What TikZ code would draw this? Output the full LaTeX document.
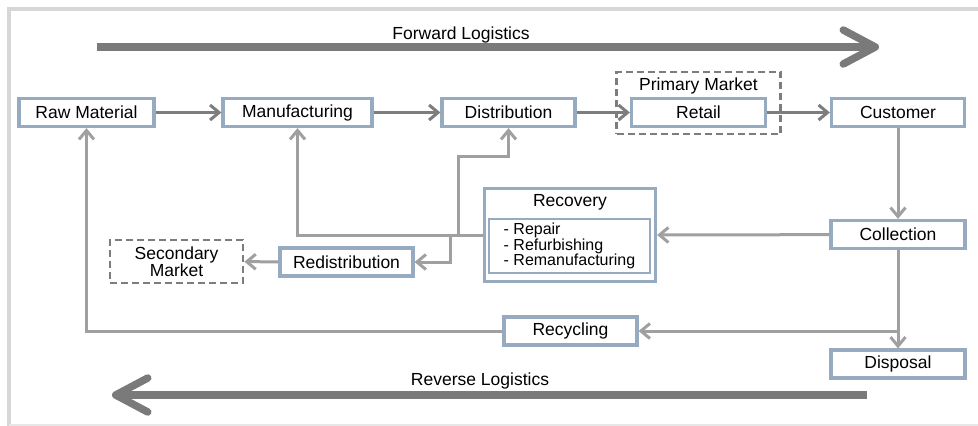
\documentclass[tikz,border=0pt]{standalone}
\usepackage{fontspec}
\setmainfont{Liberation Sans}
\usetikzlibrary{calc,arrows.meta}
\definecolor{boxblue}{RGB}{150,170,192}
\definecolor{linegray}{RGB}{160,160,160}
\definecolor{darkline}{RGB}{125,125,125}
\definecolor{bandgray}{RGB}{122,122,122}
\definecolor{framegray}{RGB}{214,214,214}
\tikzset{%
  >={Straight Barb[length=9pt,width=15pt]}, % open arrow heads
  stage/.style={draw=boxblue,line width=3.2pt,fill=white,inner sep=0pt,
  minimum height=28pt,font=\fontsize{17.5}{20}\selectfont},%
  market/.style={draw=darkline,dash pattern=on 7pt off 4pt,line width=2.8pt,
  inner sep=0pt,align=center,font=\fontsize{17.5}{16}\selectfont},%
  flow/.style={->,draw=linegray,line width=3pt},%
  fwdflow/.style={flow,draw=darkline},%
  band/.style={draw=bandgray,line width=7.5pt,
  -{Straight Barb[length=32pt,width=34pt,round]}},%
  caption/.style={font=\fontsize{17.5}{20}\selectfont}%
}
\begin{document}
\begin{tikzpicture}[x=1pt,y=-1pt] % one unit = one pixel, y downwards

    \useasboundingbox (0,0) rectangle (978,426);
    \draw[framegray,line width=3.5pt] (990,9) -- (9,9) -- (9,426); % frame
    \draw[framegray!60,line width=2pt] (9,425) -- (990,425);

    \def\rowy{112.5} % forward chain
    \def\colx{898} % right column

    % forward logistics
    \coordinate (FwdStart) at (97,47);
    \coordinate (FwdEnd) at (879,47);
    \draw[band] (FwdStart) -- (FwdEnd);
    \node[caption] (fwdlabel) at (461,35) {Forward Logistics};

    \node[market,minimum width=164pt,minimum height=62pt] (primary) at (698.5,103) {};
    \node[caption] (primarylabel) at (698.5,86) {Primary Market};

    \node[stage,minimum width=135pt] (raw) at (86.5,\rowy) {Raw Material};
    \node[stage,minimum width=149pt] (manu) at (297.5,\rowy) {Manufacturing};
    \node[stage,minimum width=133pt] (distr) at (508.5,\rowy) {Distribution};
    \node[stage,minimum width=134pt] (retail) at (698.5,\rowy) {Retail};
    \node[stage,minimum width=133pt] (customer) at (\colx,\rowy) {Customer};

    \draw[fwdflow] (raw) -- (manu);
    \draw[fwdflow] (manu) -- (distr);
    \draw[fwdflow] (distr) -- (retail);
    \draw[fwdflow] (retail) -- (customer);

    % reverse side
    \node[stage,minimum width=134pt] (collection) at (\colx,234.5) {Collection};
    \node[stage,minimum width=134pt] (disposal) at (\colx,364) {Disposal};
    \node[stage,minimum width=133pt] (recycling) at (570.5,331) {Recycling};
    \node[stage,minimum width=133pt] (redistr) at (346.5,262) {Redistribution};
    \node[market,minimum width=133pt,minimum height=43pt] (secondary) at (176.5,261.5) {Secondary\\Market};

    \node[stage,minimum width=171pt,minimum height=93pt] (recovery) at (570,235) {};
    \node[caption] (recoverylabel) at (570,202) {Recovery};
    \node[stage,line width=2.8pt,minimum width=161pt,minimum height=54pt,align=left,
      font=\fontsize{16}{15.5}\selectfont] (methods) at (569.5,246) {- Repair\\- Refurbishing\\- Remanufacturing};

    \coordinate (HubUp) at (458,235);
    \coordinate (HubDown) at (450,235);

    \draw[flow] (customer.south) -- (collection.north);
    \draw[flow] (collection) -- (recovery.east);
    \draw[flow] (collection) -- (disposal);
    \draw[flow] (collection.south |- recycling) -- (recycling);
    \draw[flow] (recycling) -| (raw.south);
    \draw[flow] (recovery.west) -| (manu.south);
    \draw[flow] (HubUp) -- ++(0,-79) -| (distr.south);
    \draw[flow] (HubDown) |- (redistr.east);
    \draw[flow] (redistr) -- (secondary);

    % reverse logistics
    \coordinate (RevStart) at (867,395);
    \coordinate (RevEnd) at (112,395);
    \draw[band] (RevStart) -- (RevEnd);
    \node[caption] (revlabel) at (480,381) {Reverse Logistics};

\end{tikzpicture}
\end{document}
